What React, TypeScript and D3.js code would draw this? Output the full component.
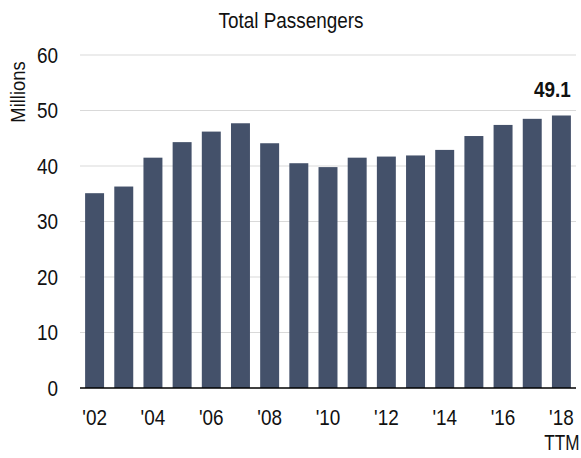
import React, { useRef, useEffect } from "react";
import * as d3 from "d3";

const years = ["'02", "'03", "'04", "'05", "'06", "'07", "'08", "'09", "'10", "'11", "'12", "'13", "'14", "'15", "'16", "'17", "'18"];
const passengers = [35.1, 36.3, 41.5, 44.3, 46.2, 47.7, 44.1, 40.5, 39.8, 41.5, 41.7, 41.9, 42.9, 45.4, 47.4, 48.5, 49.1];
const yTicks = [0, 10, 20, 30, 40, 50, 60];
const shownLabels = ["'02", "'04", "'06", "'08", "'10", "'12", "'14", "'16", "'18"];

const W = 581;
const H = 458;
const FONT = "'Liberation Sans', Arial, sans-serif";
// the source uses a narrow grotesque, so squeeze the glyphs horizontally
const SX = 0.86;

export default function App() {
  const svgRef = useRef<SVGSVGElement | null>(null);

  useEffect(() => {
    const svg = svgRef.current;
    if (!svg) return;
    const M = { l: 80, r: 5, t: 55, b: 70 };

    const x = d3
      .scaleBand<string>()
      .domain(years)
      .range([M.l, W - M.r])
      .paddingInner(0.35)
      .paddingOuter(0.175);

    const y = d3.scaleLinear().domain([0, 60]).range([H - M.b, M.t]);

    const sel = d3.select(svg);
    sel.selectAll("*").remove();

    sel
      .append("text")
      .attr("transform", `translate(291,27.5) scale(${SX},1)`)
      .attr("text-anchor", "middle")
      .attr("font-family", FONT)
      .attr("font-size", 22)
      .attr("fill", "#111")
      .text("Total Passengers");

    // gridlines
    sel
      .append("g")
      .selectAll("line")
      .data(yTicks.filter((t) => t > 0))
      .enter()
      .append("line")
      .attr("x1", M.l)
      .attr("x2", W - M.r)
      .attr("y1", (d) => y(d))
      .attr("y2", (d) => y(d))
      .attr("stroke", "#d9d9d9")
      .attr("stroke-width", 1.2);

    // y tick labels
    sel
      .append("g")
      .selectAll("text")
      .data(yTicks)
      .enter()
      .append("text")
      .attr("transform", (d) => `translate(58,${y(d)}) scale(${SX},1)`)
      .attr("dy", "0.36em")
      .attr("text-anchor", "end")
      .attr("font-family", FONT)
      .attr("font-size", 22)
      .attr("fill", "#111")
      .text((d) => d);

    const midY = 92;
    sel
      .append("text")
      .attr("transform", `translate(25,${midY}) rotate(-90) scale(0.92,1)`)
      .attr("text-anchor", "middle")
      .attr("font-family", FONT)
      .attr("font-size", 20)
      .attr("fill", "#111")
      .text("Millions");

    // bars
    sel
      .append("g")
      .selectAll("rect")
      .data(passengers)
      .enter()
      .append("rect")
      .attr("x", (_, i) => x(years[i]) as number)
      .attr("y", (d) => y(d))
      .attr("width", x.bandwidth())
      .attr("height", (d) => y(0) - y(d))
      .attr("fill", "#44516a");

    // x axis line
    sel
      .append("line")
      .attr("x1", M.l)
      .attr("x2", W - M.r)
      .attr("y1", y(0))
      .attr("y2", y(0))
      .attr("stroke", "#000")
      .attr("stroke-width", 1.5);

    // x labels
    sel
      .append("g")
      .selectAll("text")
      .data(years.filter((d) => shownLabels.includes(d)))
      .enter()
      .append("text")
      .attr(
        "transform",
        (d) => `translate(${(x(d) as number) + x.bandwidth() / 2},424.5) scale(${SX},1)`
      )
      .attr("text-anchor", "middle")
      .attr("font-family", FONT)
      .attr("font-size", 22)
      .attr("fill", "#111")
      .text((d) => d);

    const last = years[years.length - 1];
    const lastX = (x(last) as number) + x.bandwidth() / 2;
    sel
      .append("text")
      .attr("transform", `translate(${lastX + 0.5},450) scale(0.78,1)`)
      .attr("text-anchor", "middle")
      .attr("font-family", FONT)
      .attr("font-size", 22)
      .attr("fill", "#111")
      .text("TTM");

    // last value label
    sel
      .append("text")
      .attr(
        "transform",
        `translate(${(x(last) as number) + x.bandwidth()},97) scale(${SX},1)`
      )
      .attr("text-anchor", "end")
      .attr("font-family", FONT)
      .attr("font-size", 22)
      .attr("font-weight", "bold")
      .attr("fill", "#111")
      .text(passengers[passengers.length - 1].toFixed(1));
  }, []);

  return (
    <svg
      ref={svgRef}
      width={W}
      height={H}
      style={{ position: "absolute", left: 0, top: 0, background: "#fff" }}
    />
  );
}
